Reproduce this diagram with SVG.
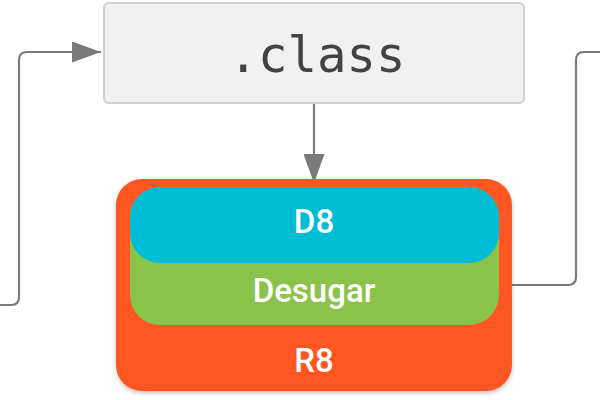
<svg xmlns="http://www.w3.org/2000/svg" width="600" height="400" viewBox="0 0 600 400">
<style>
.conn{fill:none;stroke:#7a7a7a;stroke-width:2.2}
.lbl{font-family:Roboto,"Liberation Sans",sans-serif;font-weight:500;font-size:33px;fill:#ffffff;text-anchor:middle}
.mono{font-family:"DejaVu Sans Mono","Liberation Mono",monospace;font-size:49px;fill:#424242;text-anchor:middle}
</style>
<defs>
<marker id="ah" viewBox="0 0 29 21" refX="29" refY="10.5" markerWidth="29" markerHeight="21" markerUnits="userSpaceOnUse" orient="auto">
<path d="M0,0 L29,10.5 L0,21 Z" fill="#7a7a7a"/>
</marker>
<filter id="sh" x="-10%" y="-10%" width="120%" height="125%">
<feDropShadow dx="0" dy="2" stdDeviation="2" flood-color="#000" flood-opacity="0.25"/>
</filter>
</defs>
<rect width="600" height="400" fill="#ffffff"/>
<g id="connectors">
<path class="conn" d="M0,305 H11 Q19,305 19,297 V60 Q19,52 27,52 H101" marker-end="url(#ah)"/>
<path class="conn" d="M314,103 V183" marker-end="url(#ah)"/>
<path class="conn" d="M512,285 H568 Q576,285 576,277 V60 Q576,52 584,52 H600"/>
</g>
<g id="class">
<rect x="104" y="3" width="420" height="100" rx="5" fill="#f1f1f1" stroke="#d0d0d0" stroke-width="2"/>
<text class="mono" x="317" y="72">.class</text>
</g>
<g id="r8">
<rect x="116" y="179" width="396" height="212" rx="26" fill="#ff5722" filter="url(#sh)"/>
<text class="lbl" x="314" y="372">R8</text>
</g>
<g id="desugar">
<rect x="130" y="187" width="369" height="138" rx="30" fill="#8bc34a"/>
<text class="lbl" x="314" y="302">Desugar</text>
</g>
<g id="d8">
<rect x="130" y="187" width="369" height="76" rx="30" fill="#00bcd4"/>
<text class="lbl" x="314" y="233">D8</text>
</g>
</svg>
